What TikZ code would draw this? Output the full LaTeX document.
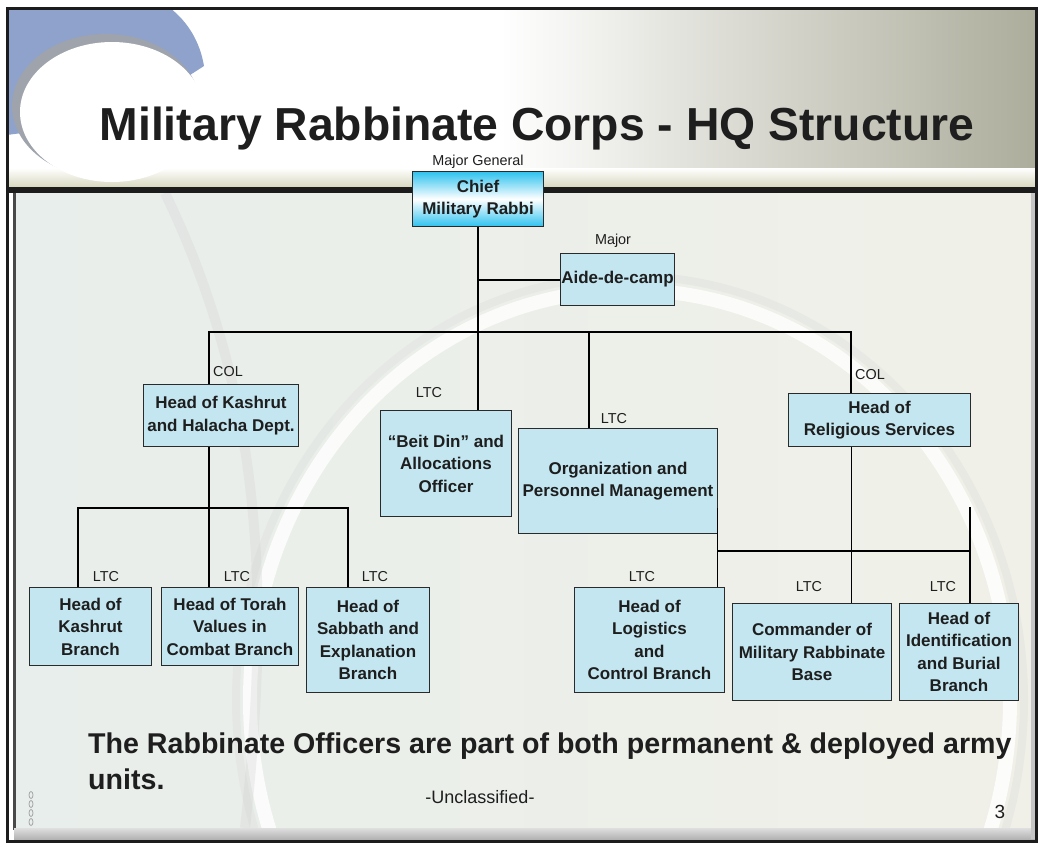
\documentclass[tikz,border=0pt]{standalone}
\usepackage{fontspec}
\setmainfont{Liberation Sans}
\usepackage{tikz}
\usepackage{xcolor}

\definecolor{boxblue}{HTML}{C3E6F0}
\definecolor{boxline}{HTML}{2A2A2A}
\definecolor{rankcyan}{HTML}{2EC2EF}
\definecolor{textdark}{HTML}{1E1E1E}
\definecolor{framedark}{HTML}{1C1C1C}
\definecolor{headkhaki}{HTML}{ADAD9C}
\definecolor{headcream}{HTML}{EFEDDC}
\definecolor{barkhaki}{HTML}{D8D8C0}
\definecolor{crescent}{HTML}{8EA2CC}
\definecolor{crescentshade}{HTML}{9EA3AC}
\definecolor{panelleft}{HTML}{E8EEEB}
\definecolor{panelmid}{HTML}{FAF8F0}
\definecolor{panelright}{HTML}{F0F0E8}

\tikzset{
  unit/.style={draw=boxline, line width=1pt, fill=boxblue, inner sep=0pt, anchor=north west,
    align=center, text=textdark, font=\fontsize{17}{22.5}\selectfont\bfseries},
  rank/.style={anchor=base, inner sep=0.75pt, text=textdark, font=\fontsize{14.4}{17}\selectfont},
  link/.style={line width=2pt},
  thinlink/.style={line width=1pt},
}

\begin{document}
\begin{tikzpicture}[x=1pt,y=1pt,yscale=-1,xscale=1]
\useasboundingbox (0,0) rectangle (1038,844);

%Slide background
\fill[white] (0,0) rectangle (1038,844);
\shade[left color=white, middle color=headcream, right color=headkhaki] (500,8) rectangle (1036,168);
\shade[top color=white, bottom color=barkhaki] (7,168) rectangle (1036,187);
%Corner ornament
\begin{scope}
\clip (7,8) rectangle (400,187);
\fill[crescent] (7,8) -- (170,8) .. controls (188,22) and (200,42) .. (204,66) -- (120,120) -- (7,135) -- cycle;
\fill[crescentshade] (106,106) ellipse (94 and 72);
\fill[white] (112,112) ellipse (92 and 70);
\end{scope}
\fill[framedark] (7,187) rectangle (1036,193);
%Panel
\shade[left color=panelleft, middle color=panelmid, right color=panelright] (14,193) rectangle (1033,828);
\begin{scope}
\clip (14,193) rectangle (1033,828);
\draw[gray!30, line width=8pt, opacity=0.3] (630,700) ellipse (394 and 424);
\draw[white, line width=14pt, opacity=0.8] (630,700) ellipse (380 and 410);
\draw[gray!35, line width=10pt, opacity=0.3] (165,193) .. controls (265,400) and (270,600) .. (245,828);
\end{scope}
\fill[framedark!80] (13,193) rectangle (16,830);
\shade[top color=gray!25, bottom color=gray!60] (14,828) rectangle (1036,839);
\fill[gray!45] (1031,193) rectangle (1035,839);
\draw[framedark, line width=3pt] (7,8) rectangle (1036.5,841);
%Ornament bottom left
\foreach \k in {795,804,813,822}
  \draw[gray!70, line width=0.8pt] (31,\k) ellipse (2 and 3.5);

%Title
\draw (537,140) node (title) [anchor=base, inner sep=0pt, text=textdark, font=\fontsize{46.3}{50}\selectfont\bfseries] {Military Rabbinate Corps - HQ Structure};

%Units
\draw (412,171) node (chief) [unit, fill=none, top color=rankcyan, bottom color=rankcyan, middle color=white, minimum width=131pt, minimum height=55pt] {Chief\\Military Rabbi};
\draw (560,253) node (aide) [unit, minimum width=114pt, minimum height=52pt] {Aide-de-camp};
\draw (143,384) node (kdept) [unit, minimum width=155pt, minimum height=62pt] {Head of Kashrut\\and Halacha Dept.};
\draw (380,410) node (beit) [unit, minimum width=131pt, minimum height=106pt] {“Beit Din” and\\Allocations\\Officer};
\draw (518,428) node (org) [unit, minimum width=199pt, minimum height=105pt] {Organization and\\Personnel Management};
\draw (788,393) node (relig) [unit, minimum width=182pt, minimum height=53pt] {Head of\\Religious Services};
\draw (29,587) node (kash) [unit, minimum width=122pt, minimum height=78pt] {Head of\\Kashrut\\Branch};
\draw (161,587) node (torah) [unit, minimum width=137pt, minimum height=78pt] {Head of Torah\\Values in\\Combat Branch};
\draw (306,587) node (sabb) [unit, minimum width=123pt, minimum height=105pt] {Head of\\Sabbath and\\Explanation\\Branch};
\draw (574,587) node (logi) [unit, minimum width=150pt, minimum height=105pt] {Head of\\Logistics\\and\\Control Branch};
\draw (732,603) node (cmdr) [unit, minimum width=159pt, minimum height=97pt] {Commander of\\Military Rabbinate\\Base};
\draw (899,603) node (ident) [unit, minimum width=119pt, minimum height=97pt] {Head of\\Identification\\and Burial\\Branch};

%Ranks
\draw (478,165) node (rkchief) [rank] {Major General};
\draw (613,244) node (rkaide) [rank] {Major};
\draw (228,376) node (rkkdept) [rank] {COL};
\draw (429,397) node (rkbeit) [rank] {LTC};
\draw (614,423) node (rkorg) [rank] {LTC};
\draw (870,379) node (rkrelig) [rank] {COL};
\draw (106,581) node (rkkash) [rank] {LTC};
\draw (237,581) node (rktorah) [rank] {LTC};
\draw (375,581) node (rksabb) [rank] {LTC};
\draw (642,581) node (rklogi) [rank] {LTC};
\draw (809,591) node (rkcmdr) [rank] {LTC};
\draw (943,591) node (rkident) [rank] {LTC};

%Connectors
\coordinate (busL) at (209,332);
\coordinate (busR) at (851,332);
\coordinate (orgtap) at (589,332);
\coordinate (kL) at (78,508);
\coordinate (kR) at (348,508);
\coordinate (rL) at (717,551);
\coordinate (rR) at (970,551);
\coordinate (rTop) at (970,507);
\coordinate (orgcorner) at (717,508);
\draw[link] (chief.south) -- (chief.south |- beit.north);
\draw[link] (aide.west) -- (aide.west -| chief.south);
\draw[link] (busL |- kdept.north) -- (busL) -- (busR) -- (busR |- relig.north);
\draw[link] (orgtap) -- (orgtap |- org.north);
\draw[link] (busL |- kdept.south) -- (busL |- torah.north);
\draw[link] (kL |- kash.north) -- (kL) -- (kR) -- (kR |- sabb.north);
\draw[thinlink] (busR |- relig.south) -- (busR |- cmdr.north);
\draw[link] (rL) -- (rR);
\draw[link] (rTop) -- (rTop |- ident.north);
\draw[thinlink] (orgcorner) -- (orgcorner |- logi.north);

%Footer
\draw (88,753) node (note) [anchor=base west, inner sep=0pt, text=textdark, font=\fontsize{28.6}{34}\selectfont\bfseries] {The Rabbinate Officers are part of both permanent \& deployed army};
\draw (88,789) node (notetail) [anchor=base west, inner sep=0pt, text=textdark, font=\fontsize{28.6}{34}\selectfont\bfseries] {units.};
\draw (480,803) node (classif) [anchor=base, inner sep=0pt, text=textdark, font=\fontsize{18}{20}\selectfont] {-Unclassified-};
\draw (1000,818) node (pagenum) [anchor=base, inner sep=0pt, text=textdark, font=\fontsize{19}{20}\selectfont] {3};

\end{tikzpicture}
\end{document}
